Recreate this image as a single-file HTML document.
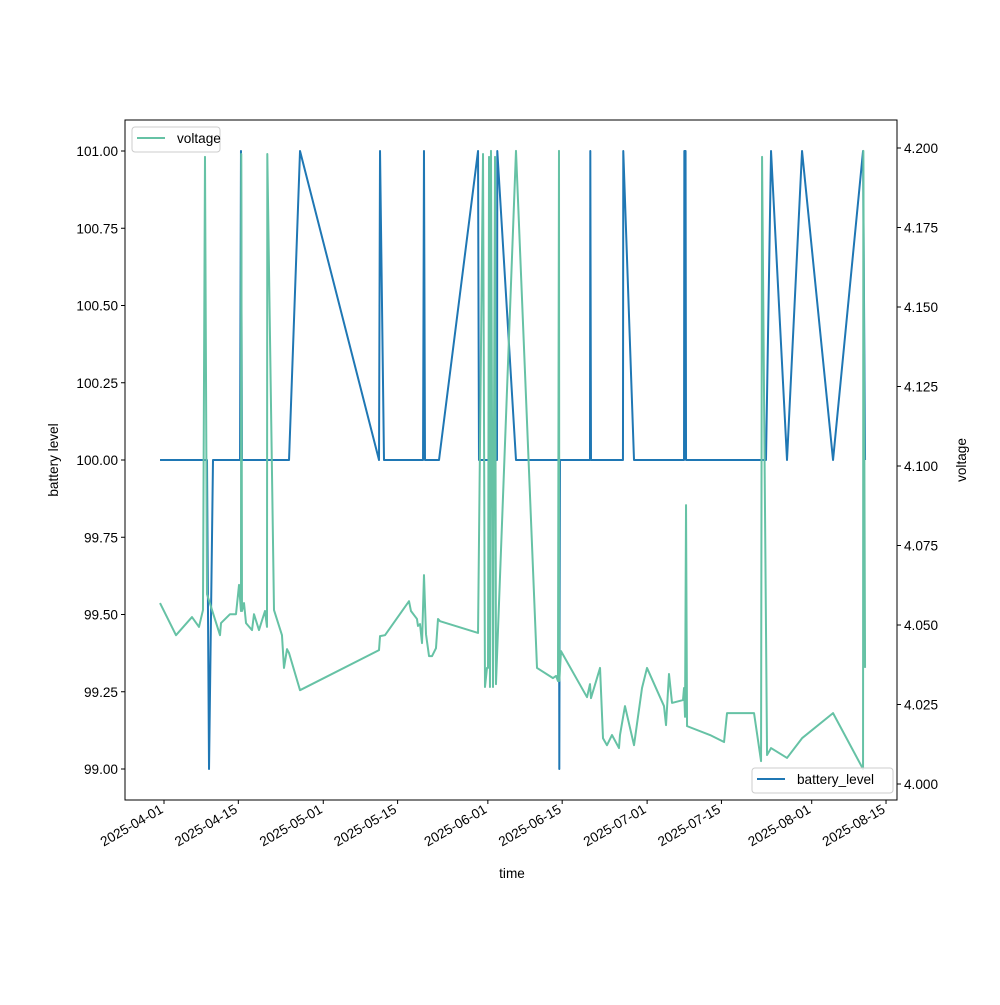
<!DOCTYPE html>
<html><head><meta charset="utf-8"><style>
body{margin:0;background:#fff}
svg text{font-family:"Liberation Sans","DejaVu Sans",sans-serif;font-size:13.6px;fill:#000}
</style></head><body>
<svg id="chart" width="1000" height="1000" xmlns="http://www.w3.org/2000/svg"></svg>
<script>
const tickDays=[0,14,30,44,61,75,91,105,122,136];
const tickLabels=["2025-04-01","2025-04-15","2025-05-01","2025-05-15","2025-06-01","2025-06-15","2025-07-01","2025-07-15","2025-08-01","2025-08-15"];
const leftTicks=[99,99.25,99.5,99.75,100,100.25,100.5,100.75,101];
const rightTicks=[4.0,4.025,4.05,4.075,4.1,4.125,4.15,4.175,4.2];
const batteryDays=[-0.75,8.10,8.48,9.23,14.32,14.50,14.69,23.55,25.62,40.50,40.69,41.44,48.79,48.97,49.16,51.80,59.15,59.33,62.72,62.78,66.30,74.40,74.46,74.59,80.24,80.30,80.43,86.45,86.51,88.53,97.95,98.01,98.24,98.33,113.39,114.34,117.35,120.18,126.02,131.67,132.05];
const batteryLevel=[100,100,99,100,100,101,100,100,101,100,101,100,100,101,100,100,101,100,100,101,100,100,99,100,100,101,100,100,101,100,100,101,101,100,100,101,100,101,100,101,100];
const voltDays=[-0.75,2.26,5.27,6.59,7.34,7.72,8.10,10.55,10.74,12.43,13.56,14.13,14.50,14.56,14.69,15.07,15.45,16.58,16.95,17.89,19.02,19.40,19.46,20.72,22.22,22.60,23.17,23.55,25.62,40.50,40.69,41.63,46.15,46.52,47.65,47.84,48.22,48.60,48.97,49.35,49.92,50.48,51.23,51.61,51.99,59.15,60.09,60.46,60.84,61.03,61.22,61.40,61.59,61.97,62.35,62.53,66.30,70.26,73.27,73.84,74.21,74.40,74.46,74.78,79.68,80.24,80.43,82.13,82.69,83.44,84.38,85.70,85.89,86.83,88.53,90.04,90.98,94.18,94.56,95.12,95.69,97.76,97.95,98.14,98.33,98.52,102.85,105.49,106.05,111.14,112.46,112.65,113.59,114.34,117.35,120.18,126.02,131.67,131.73,132.05];
const voltage=[4.0569,4.0468,4.0525,4.0494,4.0547,4.1972,4.0597,4.0468,4.0506,4.0534,4.0534,4.0626,4.0544,4.1981,4.0544,4.0569,4.0506,4.0484,4.0534,4.0484,4.0544,4.0494,4.1981,4.0547,4.0468,4.0365,4.0424,4.0412,4.0295,4.0421,4.0465,4.0468,4.0575,4.0544,4.0519,4.0497,4.0503,4.0443,4.0657,4.0471,4.0402,4.0402,4.0427,4.0519,4.0512,4.0475,4.1981,4.0305,4.0365,4.0365,4.1972,4.0305,4.1991,4.0305,4.1972,4.0314,4.1991,4.0365,4.0333,4.0340,4.0324,4.1991,4.0324,4.0418,4.0273,4.0314,4.0270,4.0365,4.0144,4.0122,4.0154,4.0113,4.0154,4.0245,4.0122,4.0302,4.0365,4.0245,4.0185,4.0346,4.0255,4.0264,4.0302,4.0211,4.0877,4.0182,4.0154,4.0132,4.0223,4.0223,4.0072,4.1972,4.0091,4.0113,4.0082,4.0144,4.0223,4.0047,4.1991,4.0365];

const NS="http://www.w3.org/2000/svg";
const svg=document.getElementById('chart');
const X0=125,X1=897,Y0=120,Y1=800;
const xs=d=>164+d*5.309;
const yL=v=>151+(101-v)*309;
const yR=v=>148+(4.2-v)*3180;
function el(t,a,p){const e=document.createElementNS(NS,t);for(const k in a)e.setAttribute(k,a[k]);(p||svg).appendChild(e);return e;}

const bp=batteryDays.map((d,i)=>xs(d).toFixed(2)+','+yL(batteryLevel[i]).toFixed(2)).join(' ');
const bl=el('polyline',{points:bp,fill:'none',stroke:'#1f77b4','stroke-width':2,'stroke-linejoin':'round'});


const vp=voltDays.map((d,i)=>xs(d).toFixed(2)+','+yR(voltage[i]).toFixed(2)).join(' ');
const vl=el('polyline',{points:vp,fill:'none',stroke:'#66c2a5','stroke-width':2,'stroke-linejoin':'round'});



const fr=el('rect',{x:X0,y:Y0,width:X1-X0,height:Y1-Y0,fill:'none',stroke:'#000','stroke-width':1});



tickDays.forEach((d,i)=>{const x=xs(d);
 el('line',{x1:x,y1:Y1,x2:x,y2:Y1+4,stroke:'#000'});
 const t=el('text',{x:x,y:Y1+12,'text-anchor':'end',transform:`rotate(-30 ${x} ${Y1+12})`});t.textContent=tickLabels[i];
 
 });
leftTicks.forEach(v=>{const y=yL(v);
 el('line',{x1:X0-4,y1:y,x2:X0,y2:y,stroke:'#000'});
 const t=el('text',{x:X0-7,y:y+5,'text-anchor':'end'});t.textContent=v.toFixed(2);
 
 });
rightTicks.forEach(v=>{const y=yR(v);
 el('line',{x1:X1,y1:y,x2:X1+4,y2:y,stroke:'#000'});
 const t=el('text',{x:X1+7,y:y+5});t.textContent=v.toFixed(3);
 
 });

let t=el('text',{x:512,y:878,'text-anchor':'middle'});t.textContent='time';

t=el('text',{x:58,y:460,'text-anchor':'middle',transform:'rotate(-90 58 460)'});t.textContent='battery level';

t=el('text',{x:966,y:460,'text-anchor':'middle',transform:'rotate(-90 966 460)'});t.textContent='voltage';


let g=el('g',{});
el('rect',{x:132,y:127,width:88,height:25,rx:3,fill:'#fff','fill-opacity':0.8,stroke:'#ccc'},g);
el('line',{x1:137,y1:138,x2:165,y2:138,stroke:'#66c2a5','stroke-width':2},g);
t=el('text',{x:177,y:143},g);t.textContent='voltage';
g=el('g',{});
el('rect',{x:752,y:768,width:141,height:25,rx:3,fill:'#fff','fill-opacity':0.8,stroke:'#ccc'},g);
el('line',{x1:757,y1:779,x2:785,y2:779,stroke:'#1f77b4','stroke-width':2},g);
t=el('text',{x:797,y:784},g);t.textContent='battery_level';
</script>
</body></html>
